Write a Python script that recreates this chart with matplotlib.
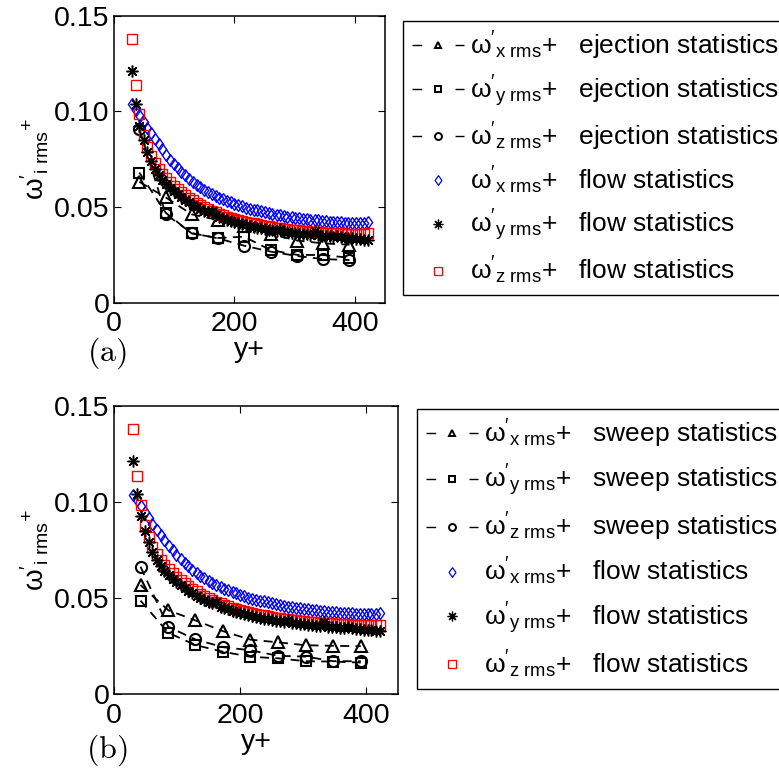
import matplotlib
matplotlib.use('Agg')
import matplotlib.pyplot as plt
from matplotlib.lines import Line2D

plt.rcParams['font.family'] = ['Liberation Sans', 'DejaVu Sans']
plt.rcParams['mathtext.fontset'] = 'custom'
plt.rcParams['mathtext.rm'] = 'Liberation Sans'
plt.rcParams['mathtext.it'] = 'Liberation Sans:italic'
plt.rcParams['mathtext.bf'] = 'Liberation Sans:bold'

# ---------------- data ----------------
yplus_flow = [30, 36, 42, 49, 55, 61, 68, 74, 80, 87, 93, 99, 106, 112, 118, 124,
              131, 137, 143, 150, 156, 162, 169, 175, 181, 188, 194, 200, 206, 213,
              219, 225, 232, 238, 244, 251, 257, 263, 270, 276, 282, 288, 295, 301,
              307, 314, 320, 326, 333, 339, 345, 352, 358, 364, 370, 377, 383, 389,
              396, 402, 408, 415, 421]

wx_flow = [0.1036, 0.1008, 0.0980, 0.0945, 0.0915, 0.0886, 0.0856, 0.0828, 0.0802,
           0.0773, 0.0748, 0.0726, 0.0704, 0.0684, 0.0665, 0.0648, 0.0631, 0.0616,
           0.0603, 0.0590, 0.0578, 0.0567, 0.0557, 0.0548, 0.0540, 0.0532, 0.0524,
           0.0517, 0.0510, 0.0503, 0.0497, 0.0491, 0.0486, 0.0483, 0.0478, 0.0473,
           0.0468, 0.0464, 0.0460, 0.0456, 0.0453, 0.0450, 0.0447, 0.0444, 0.0441,
           0.0438, 0.0436, 0.0434, 0.0432, 0.0430, 0.0428, 0.0426, 0.0424, 0.0423,
           0.0421, 0.0420, 0.0418, 0.0417, 0.0416, 0.0416, 0.0417, 0.0418, 0.0421]

wy_flow = [0.1210, 0.1041, 0.0925, 0.0850, 0.0790, 0.0742, 0.0700, 0.0668, 0.0642,
           0.0620, 0.0601, 0.0584, 0.0566, 0.0551, 0.0537, 0.0524, 0.0512, 0.0501,
           0.0491, 0.0481, 0.0472, 0.0478, 0.0456, 0.0448, 0.0441, 0.0434, 0.0427,
           0.0421, 0.0416, 0.0411, 0.0406, 0.0401, 0.0397, 0.0393, 0.0389, 0.0386,
           0.0382, 0.0379, 0.0376, 0.0387, 0.0371, 0.0368, 0.0366, 0.0363, 0.0361,
           0.0359, 0.0357, 0.0355, 0.0374, 0.0352, 0.0350, 0.0348, 0.0347, 0.0345,
           0.0350, 0.0342, 0.0340, 0.0338, 0.0336, 0.0334, 0.0332, 0.0330, 0.0328]

wz_flow = [0.1377, 0.1136, 0.0985, 0.0878, 0.0815, 0.0768, 0.0728, 0.0697, 0.0672,
           0.0650, 0.0630, 0.0612, 0.0594, 0.0578, 0.0563, 0.0549, 0.0536, 0.0523,
           0.0511, 0.0500, 0.0490, 0.0481, 0.0472, 0.0464, 0.0457, 0.0450, 0.0444,
           0.0438, 0.0433, 0.0428, 0.0423, 0.0418, 0.0414, 0.0410, 0.0406, 0.0402,
           0.0399, 0.0396, 0.0393, 0.0390, 0.0387, 0.0385, 0.0382, 0.0380, 0.0378,
           0.0376, 0.0374, 0.0372, 0.0371, 0.0369, 0.0368, 0.0366, 0.0365, 0.0364,
           0.0363, 0.0362, 0.0361, 0.0360, 0.0360, 0.0359, 0.0359, 0.0360, 0.0362]

yplus_cond = [42, 86, 129, 173, 216, 260, 304, 347, 391]

wx_ejection = [0.0632, 0.0550, 0.0462, 0.0432, 0.0400, 0.0358, 0.0325, 0.0310, 0.0303]
wy_ejection = [0.0680, 0.0470, 0.0362, 0.0338, 0.0345, 0.0275, 0.0250, 0.0249, 0.0235]
wz_ejection = [0.0910, 0.0462, 0.0364, 0.0336, 0.0298, 0.0267, 0.0244, 0.0228, 0.0223]

wx_sweep = [0.0568, 0.0437, 0.0384, 0.0328, 0.0284, 0.0270, 0.0255, 0.0252, 0.0250]
wy_sweep = [0.0487, 0.0320, 0.0256, 0.0221, 0.0195, 0.0187, 0.0172, 0.0170, 0.0165]
wz_sweep = [0.0663, 0.0351, 0.0285, 0.0245, 0.0229, 0.0200, 0.0196, 0.0172, 0.0172]

cond_labels = [r"$\mathrm{\omega'_{x\ rms}}$+   ",
               r"$\mathrm{\omega'_{y\ rms}}$+   ",
               r"$\mathrm{\omega'_{z\ rms}}$+   "]

# ---------------- styles ----------------
FS = 19
TFS = 20.5
diamond = [(0, 1), (0.7, 0), (0, -1), (-0.7, 0), (0, 1)]
asterisk = (8, 2, 0)


def draw_panel(ax, cx, cy, cz):
    kw = dict(color='k', ls=(0, (5, 3.5)), lw=1.3, mfc='none', mew=1.5)
    ax.plot(yplus_cond, cx, marker='^', ms=8, **kw)
    ax.plot(yplus_cond, cy, marker='s', ms=7, **kw)
    ax.plot(yplus_cond, cz, marker='o', ms=8, **kw)
    ax.plot(yplus_flow, wx_flow, ls='none', marker=diamond, ms=8.5, mfc='none',
            mec='b', mew=1.0)
    ax.plot(yplus_flow, wz_flow, ls='none', marker='s', ms=7.5, mfc='none',
            mec='r', mew=1.0)
    ax.plot(yplus_flow, wy_flow, ls='none', marker=asterisk, ms=8.5, color='k',
            mew=1.1)
    ax.set_xlim(0, 450)
    ax.set_ylim(0, 0.15)
    ax.set_xticks([0, 200, 400])
    ax.set_yticks([0, 0.05, 0.10, 0.15])
    ax.set_yticklabels(['0', '0.05', '0.10', '0.15'])
    ax.tick_params(direction='in', top=True, right=True, length=5, width=0.8,
                   labelsize=TFS)
    ax.tick_params(axis='y', pad=3)
    ax.tick_params(axis='x', pad=6)
    for s in ax.spines.values():
        s.set_linewidth(1.1)
    ax.set_xlabel('y+', fontsize=TFS, labelpad=0)
    ax.set_ylabel(r"$\mathrm{\omega'_{i\ rms}{}^{+}}$", fontsize=FS + 1,
                  labelpad=2)


def make_legend(fig, kind, anchor, spacing):
    lw = 1.0
    handles = [
        Line2D([], [], color='k', lw=lw, ls=(0, (7, 24)), marker='^', ms=5,
               mfc='none', mew=1.4),
        Line2D([], [], color='k', lw=lw, ls=(0, (7, 24)), marker='s', ms=4.5,
               mfc='none', mew=1.4),
        Line2D([], [], color='k', lw=lw, ls=(0, (7, 24)), marker='o', ms=5,
               mfc='none', mew=1.4),
        Line2D([], [], ls='none', marker=diamond, ms=7, mfc='none', mec='b', mew=0.9),
        Line2D([], [], ls='none', marker=asterisk, ms=7, color='k', mew=0.9),
        Line2D([], [], ls='none', marker='s', ms=6, mfc='none', mec='r', mew=0.9),
    ]
    labels = [l + kind + ' statistics' for l in cond_labels] + \
             [l + 'flow statistics' for l in cond_labels]
    leg = fig.legend(handles, labels, loc='upper left', bbox_to_anchor=anchor,
                     bbox_transform=fig.transFigure, borderaxespad=0,
                     frameon=True, fancybox=False, edgecolor='k', framealpha=1,
                     fontsize=FS, handlelength=2.0, handletextpad=0.2,
                     labelspacing=spacing, borderpad=0.33)
    leg.get_frame().set_linewidth(1.0)
    return leg


W, H = 779, 769
fig = plt.figure(figsize=(W / 100, H / 100), dpi=100)
ax_a = fig.add_axes([114 / W, 1 - 302.7 / H, 271 / W, 287 / H])
ax_b = fig.add_axes([114 / W, 1 - 694.3 / H, 284 / W, 288.6 / H])

draw_panel(ax_a, wx_ejection, wy_ejection, wz_ejection)
draw_panel(ax_b, wx_sweep, wy_sweep, wz_sweep)

make_legend(fig, 'ejection', (403 / W, 1 - 20.7 / H), 0.44)
make_legend(fig, 'sweep', (417 / W, 1 - 409 / H), 0.48)

fig.text(107 / W, 1 - 353 / H, r'$\mathrm{(a)}$', math_fontfamily='cm',
         ha='center', va='center', fontsize=23)
fig.text(107 / W, 1 - 750 / H, r'$\mathrm{(b)}$', math_fontfamily='cm',
         ha='center', va='center', fontsize=23)

fig.savefig('out.png', dpi=100)
